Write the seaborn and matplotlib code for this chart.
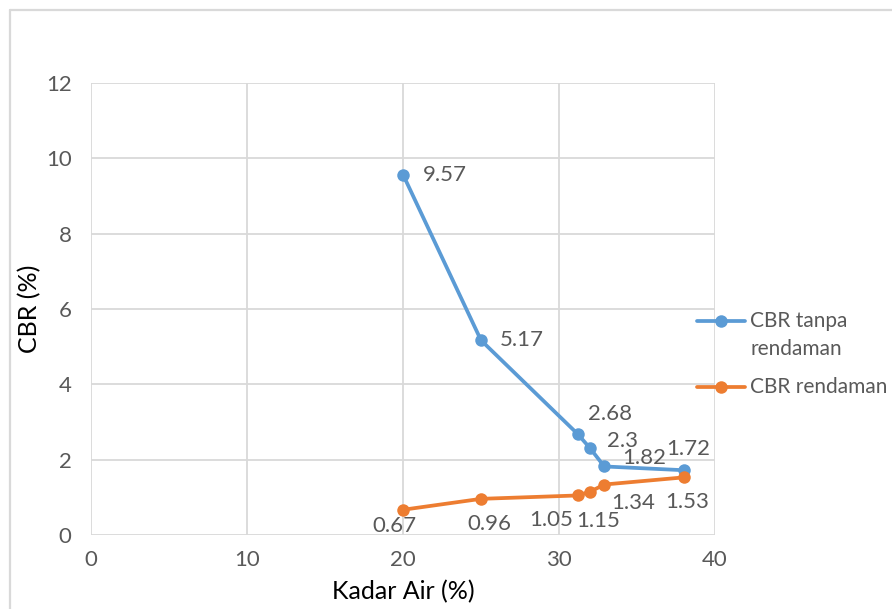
import matplotlib
matplotlib.use("Agg")
import matplotlib.pyplot as plt
from matplotlib.lines import Line2D
import seaborn as sns
import pandas as pd

# Data
kadar_air = [20, 25, 31.2, 32, 32.9, 38]
cbr_tanpa = [9.57, 5.17, 2.68, 2.3, 1.82, 1.72]
cbr_rendaman = [0.67, 0.96, 1.05, 1.15, 1.34, 1.53]
series_names = ["CBR tanpa\nrendaman", "CBR rendaman"]
x_ticks = [0, 10, 20, 30, 40]
y_ticks = [0, 2, 4, 6, 8, 10, 12]

# label offsets in pixels (dx, dy, ha)
off_tanpa = [(20, 0, "left"), (19, 0, "left"), (10, 20, "left"),
             (17, 7, "left"), (18, 8, "left"), (4, 21, "center")]
off_rendaman = [(-9, -16, "center"), (8, -25, "center"), (-27, -25, "center"),
                (8, -29, "center"), (29, -18, "center"), (3, -25, "center")]

blue = "#5B9BD5"
orange = "#ED7D31"
grid_c = "#D9D9D9"
tick_c = "#595959"

sns.set_theme(style="white")
plt.rcParams["font.family"] = ["Lato", "DejaVu Sans"]

df = pd.DataFrame({
    "x": kadar_air * 2,
    "y": cbr_tanpa + cbr_rendaman,
    "seri": [series_names[0]] * len(kadar_air) + [series_names[1]] * len(kadar_air),
})

W, H = 892, 609
fig = plt.figure(figsize=(W / 100, H / 100), dpi=100)
ax = fig.add_axes([91 / W, 1 - 535 / H, (715 - 91) / W, (535 - 83) / H])

sns.lineplot(data=df, x="x", y="y", hue="seri", palette=[blue, orange],
             marker="o", markersize=9, markeredgewidth=0, linewidth=2.7,
             ax=ax, legend=False, sort=False)

ax.set_xlim(0, 40)
ax.set_ylim(0, 12)
ax.set_xticks(x_ticks)
ax.set_yticks(y_ticks)
ax.grid(True, color=grid_c, linewidth=1.3)
ax.set_axisbelow(True)
for s in ax.spines.values():
    s.set_visible(False)
ax.tick_params(axis="both", length=0, labelsize=16, labelcolor=tick_c)
ax.tick_params(axis="x", pad=11)
ax.tick_params(axis="y", pad=14)
ax.set_xlabel("Kadar Air (%)", fontsize=18, color="black")
ax.set_ylabel("CBR (%)", fontsize=18, color="black")
ax.xaxis.set_label_coords(0.5, (535 - 592) / 452, transform=ax.transAxes)
ax.yaxis.set_label_coords((30 - 91) / 624, 0.5, transform=ax.transAxes)
ax.xaxis.label.set_va("center")
ax.yaxis.label.set_va("center")

# value labels
for xv, yv, (dx, dy, ha) in zip(kadar_air, cbr_tanpa, off_tanpa):
    ax.annotate(f"{yv:g}", (xv, yv), xytext=(dx, dy), textcoords="offset pixels",
                ha=ha, va="center", fontsize=16, color=tick_c)
for xv, yv, (dx, dy, ha) in zip(kadar_air, cbr_rendaman, off_rendaman):
    ax.annotate(f"{yv:g}", (xv, yv), xytext=(dx, dy), textcoords="offset pixels",
                ha=ha, va="center", fontsize=16, color=tick_c)


def fx(px):
    return px / W


def fy(py):
    return 1 - py / H


# legend at the right, drawn in figure pixels
for color, label, py in ((blue, series_names[0], 321), (orange, series_names[1], 387)):
    fig.add_artist(Line2D([fx(697), fx(745)], [fy(py), fy(py)], color=color,
                          linewidth=2.7, transform=fig.transFigure))
    fig.add_artist(Line2D([fx(721)], [fy(py)], color=color, marker="o",
                          markersize=9, markeredgewidth=0,
                          transform=fig.transFigure))
    for i, line in enumerate(label.split("\n")):
        fig.text(fx(750), fy(py + 28 * i), line, ha="left", va="center",
                 fontsize=15, color=tick_c)

# chart frame
fig.add_artist(Line2D([fx(9.5), fx(9.5)], [0, fy(10)],
                      transform=fig.transFigure, color=grid_c, linewidth=1.6))
fig.add_artist(Line2D([fx(9.5), 1], [fy(10), fy(10)],
                      transform=fig.transFigure, color=grid_c, linewidth=1.6))

fig.savefig("out.png", dpi=100)
